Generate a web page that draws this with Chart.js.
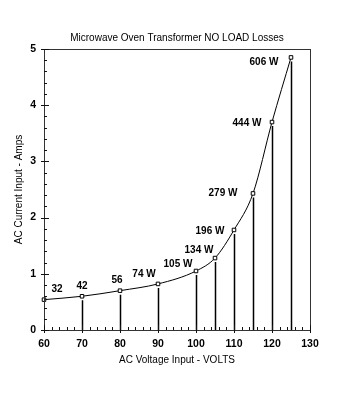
<!DOCTYPE html>
<html><head><meta charset="utf-8">
<script src="https://cdn.jsdelivr.net/npm/chart.js@4"></script>
<style>html,body{margin:0;padding:0;background:#fff}</style>
</head><body>
<canvas id="c" width="347" height="400"></canvas>
<script>
const voltages = [60, 70, 80, 90, 100, 105, 110, 115, 120, 125];
const currents = [0.54, 0.60, 0.70, 0.82, 1.05, 1.28, 1.78, 2.43, 3.70, 4.85];
const powerLabels = ["32", "42", "56", "74 W", "105 W", "134 W", "196 W", "279 W", "444 W", "606 W"];
const xTickValues = [60, 70, 80, 90, 100, 110, 120, 130];
const yTickValues = [0, 1, 2, 3, 4, 5];

const FONT = "'Liberation Sans', Arial, sans-serif";

const frameTicks = {
  id: 'frameTicks',
  afterDraw(chart) {
    const {ctx, chartArea: a, scales: {x, y}} = chart;
    ctx.save();
    ctx.strokeStyle = '#333';
    ctx.lineWidth = 1;
    ctx.strokeRect(Math.round(a.left) + 0.5, Math.round(a.top) + 0.5, Math.round(a.right - a.left), Math.round(a.bottom - a.top));
    ctx.strokeStyle = '#111';
    ctx.beginPath();
    for (let k = 0; k <= 25; k++) {
      const v = k * 0.2;
      const p = Math.round(y.getPixelForValue(v)) + 0.5;
      const major = k % 5 === 0;
      ctx.moveTo(a.left - (major ? 3 : 0), p);
      ctx.lineTo(a.left + (major ? 5 : 3), p);
    }
    for (let v = 60; v <= 130; v += 2) {
      const p = Math.round(x.getPixelForValue(v)) + 0.5;
      const major = v % 10 === 0;
      ctx.moveTo(p, a.bottom + (major ? 3 : 0));
      ctx.lineTo(p, a.bottom - (major ? 5 : 3));
    }
    ctx.stroke();
    ctx.restore();
  }
};

const dropLines = {
  id: 'dropLines',
  beforeDatasetsDraw(chart) {
    const {ctx, scales: {y}} = chart;
    const meta = chart.getDatasetMeta(0);
    const base = y.getPixelForValue(0);
    ctx.save();
    ctx.strokeStyle = '#000';
    ctx.lineWidth = 1.5;
    ctx.beginPath();
    meta.data.forEach((pt, i) => {
      if (i === 0) return;
      const px = Math.round(pt.x) + 0.5;
      ctx.moveTo(px, pt.y + 4);
      ctx.lineTo(px, base);
    });
    ctx.stroke();
    ctx.restore();
  }
};

const offsets = [[13,-10],[0,-10],[-3,-10],[-14,-10],[-18,-7],[-16,-8],[-24,1],[-30,0],[-25,1],[-27,5]];
const valueLabels = {
  id: 'valueLabels',
  afterDatasetsDraw(chart) {
    const {ctx} = chart;
    const meta = chart.getDatasetMeta(0);
    ctx.save();
    ctx.font = 'bold 10px ' + FONT;
    ctx.fillStyle = '#000';
    ctx.textAlign = 'center';
    ctx.textBaseline = 'middle';
    meta.data.forEach((pt, i) => {
      const [dx, dy] = offsets[i];
      ctx.fillText(powerLabels[i], pt.x + dx, pt.y + dy);
    });
    ctx.restore();
  }
};

new Chart(document.getElementById('c'), {
  type: 'scatter',
  data: {
    datasets: [{
      data: voltages.map((v, i) => ({x: v, y: currents[i]})),
      showLine: true,
      borderColor: '#000',
      borderWidth: 1,
      cubicInterpolationMode: 'monotone',
      pointStyle: 'rect',
      pointRadius: 2.5,
      pointBackgroundColor: '#fff',
      pointBorderColor: '#000',
      pointBorderWidth: 1,
      clip: false
    }]
  },
  options: {
    responsive: false,
    devicePixelRatio: 1,
    animation: false,
    layout: {padding: {left: 0, right: 37, top: 0, bottom: 0}},
    plugins: {
      legend: {display: false},
      tooltip: {enabled: false},
      title: {
        display: true,
        text: 'Microwave Oven Transformer NO LOAD Losses',
        fullSize: false,
        color: '#000',
        font: {family: FONT, size: 10, weight: 'normal'},
        padding: {top: 32.5, bottom: 4.5}
      }
    },
    scales: {
      x: {
        type: 'linear',
        min: 60, max: 130,
        afterBuildTicks: s => { s.ticks = xTickValues.map(v => ({value: v})); },
        afterFit: s => { s.height = 70; },
        grid: {display: false, drawTicks: false},
        border: {display: false},
        ticks: {color: '#000', font: {family: FONT, size: 10.5, weight: 'bold'}, padding: 8, maxRotation: 0},
        title: {display: true, text: 'AC Voltage Input - VOLTS', color: '#000',
          font: {family: FONT, size: 10, weight: 'normal'}, padding: {top: 0, bottom: 33.5}}
      },
      y: {
        min: 0, max: 5,
        afterBuildTicks: s => { s.ticks = yTickValues.map(v => ({value: v})); },
        afterFit: s => { s.width = 44; },
        grid: {display: false, drawTicks: false},
        border: {display: false},
        ticks: {color: '#000', font: {family: FONT, size: 10.5, weight: 'bold'}, padding: 8},
        title: {display: true, text: 'AC Current Input - Amps', color: '#000',
          font: {family: FONT, size: 10, weight: 'normal'}, padding: {top: 13.5, bottom: 0}}
      }
    }
  },
  plugins: [frameTicks, dropLines, valueLabels]
});
</script>
</body></html>
